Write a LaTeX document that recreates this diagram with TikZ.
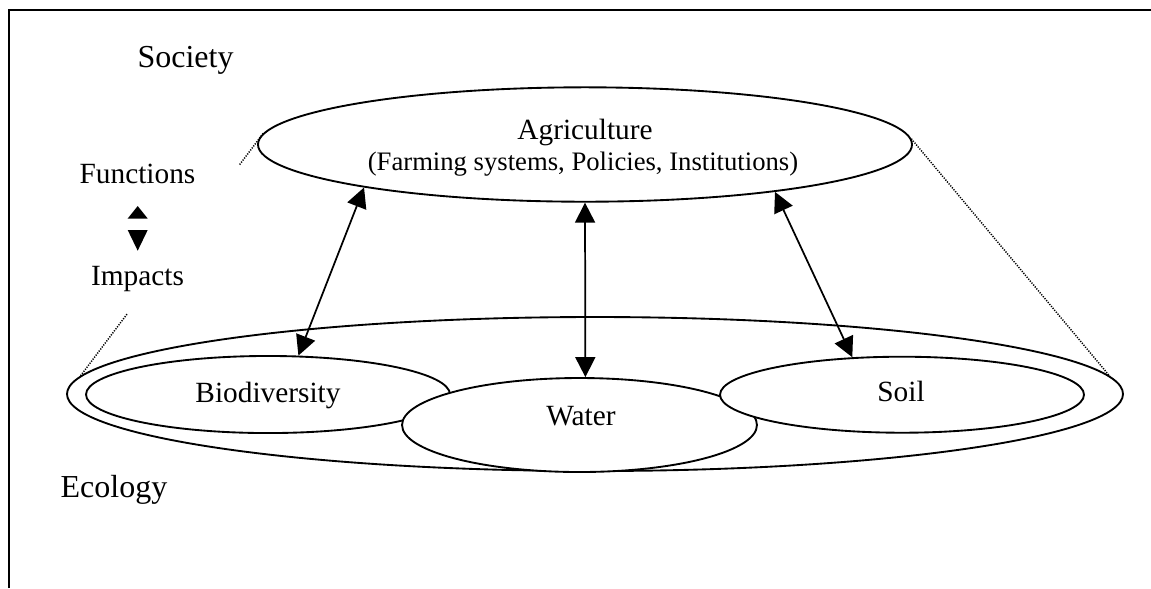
\documentclass[tikz,border=0pt]{standalone}
\usepackage{fontspec}
\setmainfont{Liberation Serif}
\usetikzlibrary{shapes.geometric,arrows.meta,calc}
\begin{document}
\begin{tikzpicture}[x=0.375pt,y=-0.375pt,
  ell/.style={draw,ellipse,line width=0.7pt,inner sep=0pt,fill=white},
  big/.style={font=\fontsize{12}{14}\selectfont},
  mid/.style={font=\fontsize{11}{13}\selectfont},
  small/.style={font=\fontsize{10}{12}\selectfont},
  link/.style={line width=0.65pt,{Triangle[length=7.5pt,width=7.5pt]}-{Triangle[length=7.5pt,width=7.5pt]}},
  dotline/.style={line width=0.55pt,dash pattern=on 0.45pt off 0.5pt},
  frame/.style={line width=0.75pt}]
\useasboundingbox (0,0) rectangle (1151,588);
\draw[frame] (9,588) -- (9,10) -- (1151,10);
% ellipses
\node[ell, fill=none, minimum width=396pt, minimum height=57.75pt] (eco) at (595,394) {};
\node[ell, minimum width=136.5pt, minimum height=28.9pt] (bio) at (268,394.5) {};
\node[ell, minimum width=133.1pt, minimum height=35.25pt] (water) at (579.5,425) {};
\node[ell, minimum width=136.5pt, minimum height=28.5pt] (soil) at (902,394.7) {};
\node[ell, minimum width=245.25pt, minimum height=42.9pt] (agri) at (585,144.5) {};
% texts
\node[big, anchor=base] (society) at (185.5,67) {Society};
\node[mid, anchor=base] (functions) at (137.5,183) {Functions};
\node[mid, anchor=base] (impacts) at (137.5,285) {Impacts};
\node[big, anchor=base] (ecology) at (114,497) {Ecology};
\node[mid, anchor=base] (agrititle) at (585,139) {Agriculture};
\node[small, anchor=base] (agrisub) at (583,170) {(Farming systems, Policies, Institutions)};
\node[mid, anchor=base] (biotext) at (268,402) {Biodiversity};
\node[mid, anchor=base] (watertext) at (581,425.5) {Water};
\node[mid, anchor=base] (soiltext) at (901,401.5) {Soil};
% functions / impacts triangles
\fill (127.7,218.5) -- (147.7,218.5) -- (137.7,206) -- cycle;
\fill (127.7,230) -- (147.7,230) -- (137.7,250.7) -- cycle;
% connectors
\draw[link] (agri.191.6) -- (bio.52.9);
\draw[link] (agri.270) -- (water.83.3);
\draw[link] (agri.346.75) -- (soil.143.2);
% dotted perspective lines
\draw[dotline] (agri.178.7) -- ($(agri.178.7)!0.129!(eco.178.1)$);
\draw[dotline] ($(agri.178.7)!0.745!(eco.178.1)$) -- (eco.178.1);
\draw[dotline] (agri.1.3) -- (eco.2.35);
\end{tikzpicture}
\end{document}
